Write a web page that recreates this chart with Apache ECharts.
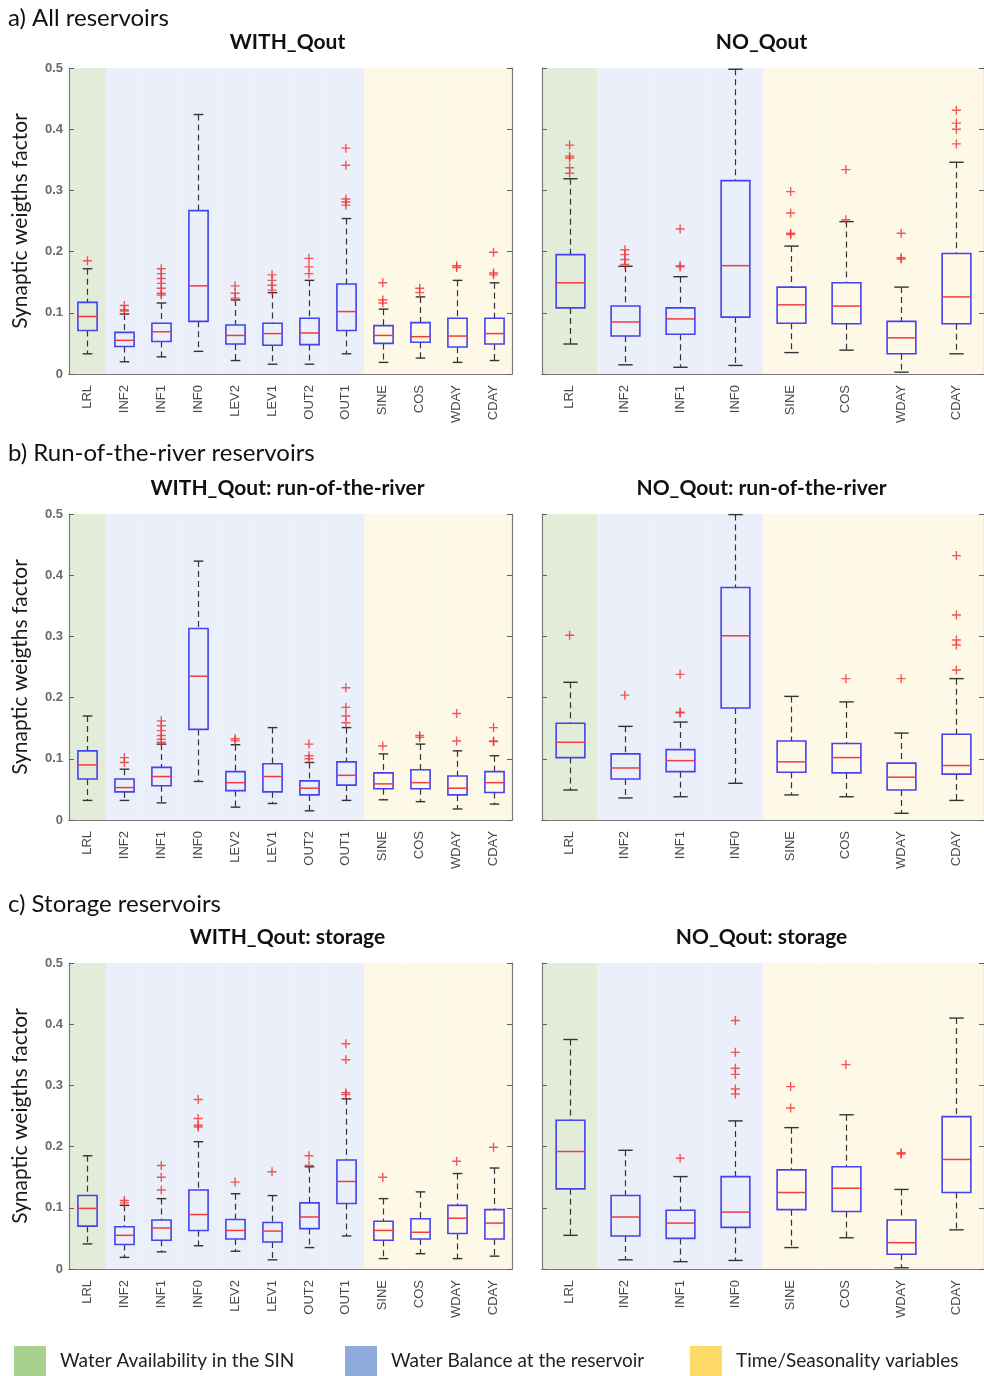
<!DOCTYPE html>
<html lang="en">
<head>
<meta charset="UTF-8">
<title>Synaptic weigths factor</title>
<script src="https://cdn.jsdelivr.net/npm/echarts@6/dist/echarts.min.js"></script>
<style>
  body { margin: 0; background: #fff; }
  #main { width: 984px; height: 1376px; }
</style>
</head>
<body>
<div id="main"></div>
<script>
// categories
var catsWith = ['LRL', 'INF2', 'INF1', 'INF0', 'LEV2', 'LEV1', 'OUT2', 'OUT1', 'SINE', 'COS', 'WDAY', 'CDAY'];
var catsNo = ['LRL', 'INF2', 'INF1', 'INF0', 'SINE', 'COS', 'WDAY', 'CDAY'];
var groupWith = [0, 1, 1, 1, 1, 1, 1, 1, 2, 2, 2, 2];
var groupNo = [0, 1, 1, 1, 2, 2, 2, 2];
var groupNames = ['Water Availability in the SIN', 'Water Balance at the reservoir', 'Time/Seasonality variables'];
var yTicks = [0, 0.1, 0.2, 0.3, 0.4, 0.5];

// boxes: [lower whisker, q1, median, q3, upper whisker]
var allWithBox = [
    [0.033, 0.071, 0.094, 0.117, 0.172], [0.020, 0.045, 0.055, 0.068, 0.098], [0.028, 0.053, 0.069, 0.083, 0.116],
    [0.037, 0.086, 0.144, 0.267, 0.424], [0.022, 0.049, 0.063, 0.080, 0.121], [0.016, 0.047, 0.066, 0.083, 0.133],
    [0.016, 0.048, 0.067, 0.091, 0.153], [0.033, 0.071, 0.102, 0.147, 0.254], [0.019, 0.050, 0.063, 0.079, 0.106],
    [0.026, 0.052, 0.061, 0.084, 0.126], [0.019, 0.044, 0.062, 0.091, 0.153], [0.022, 0.049, 0.066, 0.091, 0.149]
];
var allWithOut = [
    [0.185], [0.103, 0.105, 0.112], [0.129, 0.132, 0.140, 0.148, 0.156, 0.164, 0.172], [],
    [0.124, 0.132, 0.144], [0.137, 0.145, 0.153, 0.162], [0.164, 0.175, 0.189], [0.276, 0.281, 0.286, 0.341, 0.369],
    [0.116, 0.121, 0.149], [0.133, 0.140], [0.174, 0.177], [0.162, 0.165, 0.199]
];
var allNoBox = [
    [0.049, 0.108, 0.149, 0.195, 0.319], [0.015, 0.062, 0.085, 0.111, 0.176], [0.011, 0.065, 0.090, 0.108, 0.159],
    [0.014, 0.093, 0.177, 0.316, 0.498], [0.035, 0.083, 0.113, 0.142, 0.209], [0.039, 0.082, 0.111, 0.149, 0.249],
    [0.003, 0.033, 0.059, 0.086, 0.142], [0.033, 0.082, 0.126, 0.197, 0.346]
];
var allNoOut = [
    [0.328, 0.337, 0.353, 0.356, 0.374], [0.179, 0.187, 0.195, 0.203], [0.175, 0.177, 0.237], [],
    [0.228, 0.230, 0.263, 0.298], [0.252, 0.334], [0.188, 0.190, 0.230], [0.376, 0.400, 0.410, 0.431]
];

var rorWithBox = [
    [0.032, 0.067, 0.090, 0.113, 0.170], [0.032, 0.046, 0.053, 0.067, 0.083], [0.028, 0.056, 0.071, 0.086, 0.124],
    [0.063, 0.148, 0.235, 0.313, 0.423], [0.021, 0.048, 0.061, 0.079, 0.123], [0.027, 0.046, 0.071, 0.092, 0.151],
    [0.015, 0.041, 0.052, 0.064, 0.094], [0.032, 0.057, 0.073, 0.095, 0.151], [0.033, 0.051, 0.059, 0.077, 0.108],
    [0.030, 0.051, 0.061, 0.082, 0.124], [0.018, 0.041, 0.052, 0.072, 0.113], [0.026, 0.045, 0.061, 0.079, 0.105]
];
var rorWithOut = [
    [], [0.094, 0.102], [0.127, 0.132, 0.138, 0.146, 0.154, 0.162], [],
    [0.130, 0.133], [], [0.100, 0.105, 0.124], [0.159, 0.170, 0.184, 0.216],
    [0.121], [0.135, 0.138], [0.129, 0.174], [0.128, 0.129, 0.151]
];
var rorNoBox = [
    [0.049, 0.102, 0.127, 0.158, 0.225], [0.036, 0.067, 0.085, 0.108, 0.153], [0.038, 0.079, 0.097, 0.115, 0.160],
    [0.060, 0.183, 0.301, 0.380, 0.499], [0.041, 0.078, 0.095, 0.129, 0.202], [0.038, 0.077, 0.102, 0.125, 0.193],
    [0.011, 0.049, 0.070, 0.093, 0.142], [0.032, 0.075, 0.089, 0.140, 0.231]
];
var rorNoOut = [
    [0.302], [0.204], [0.175, 0.176, 0.238], [],
    [], [0.231], [0.231], [0.245, 0.286, 0.294, 0.335, 0.432]
];

var stoWithBox = [
    [0.041, 0.070, 0.099, 0.120, 0.185], [0.019, 0.040, 0.055, 0.069, 0.104], [0.028, 0.047, 0.067, 0.080, 0.115],
    [0.038, 0.063, 0.089, 0.129, 0.208], [0.029, 0.049, 0.063, 0.081, 0.123], [0.015, 0.044, 0.062, 0.076, 0.120],
    [0.035, 0.066, 0.085, 0.108, 0.167], [0.054, 0.107, 0.143, 0.178, 0.278], [0.017, 0.047, 0.063, 0.078, 0.115],
    [0.025, 0.049, 0.060, 0.082, 0.126], [0.017, 0.058, 0.083, 0.104, 0.156], [0.021, 0.049, 0.075, 0.097, 0.165]
];
var stoWithOut = [
    [], [0.108, 0.112], [0.129, 0.150, 0.169], [0.232, 0.235, 0.246, 0.277],
    [0.142], [0.159], [0.169, 0.185], [0.285, 0.288, 0.342, 0.368],
    [0.150], [], [0.176], [0.199]
];
var stoNoBox = [
    [0.055, 0.131, 0.192, 0.243, 0.375], [0.015, 0.054, 0.085, 0.120, 0.194], [0.012, 0.050, 0.075, 0.096, 0.151],
    [0.014, 0.068, 0.093, 0.151, 0.242], [0.035, 0.097, 0.125, 0.162, 0.231], [0.051, 0.094, 0.132, 0.167, 0.252],
    [0.002, 0.024, 0.043, 0.080, 0.130], [0.064, 0.125, 0.179, 0.249, 0.410]
];
var stoNoOut = [
    [], [], [0.181], [0.286, 0.294, 0.318, 0.328, 0.354, 0.406],
    [0.263, 0.298], [0.334], [0.188, 0.190], []
];

// layout / styling
var bandColors = ['#e3ecd9', '#eaeff9', '#fef9e7'];
var legendColors = ['#a9d18e', '#8faadc', '#ffd966'];
var rowTops = [68, 514, 963];
var plotH = 306;
var panels = [
    {title: 'WITH_Qout', cats: catsWith, groups: groupWith, box: allWithBox, out: allWithOut, row: 0, side: 0},
    {title: 'NO_Qout', cats: catsNo, groups: groupNo, box: allNoBox, out: allNoOut, row: 0, side: 1},
    {title: 'WITH_Qout: run-of-the-river', cats: catsWith, groups: groupWith, box: rorWithBox, out: rorWithOut, row: 1, side: 0},
    {title: 'NO_Qout: run-of-the-river', cats: catsNo, groups: groupNo, box: rorNoBox, out: rorNoOut, row: 1, side: 1},
    {title: 'WITH_Qout: storage', cats: catsWith, groups: groupWith, box: stoWithBox, out: stoWithOut, row: 2, side: 0},
    {title: 'NO_Qout: storage', cats: catsNo, groups: groupNo, box: stoNoBox, out: stoNoOut, row: 2, side: 1}
];
var sections = ['a) All reservoirs', 'b) Run-of-the-river reservoirs', 'c) Storage reservoirs'];
var sectionY = [18, 453, 904];
var titleY = [42, 488, 937];

function renderBox(params, api) {
    var i = api.value(0);
    var lo = api.coord([i, api.value(1)]);
    var q1 = api.coord([i, api.value(2)]);
    var md = api.coord([i, api.value(3)]);
    var q3 = api.coord([i, api.value(4)]);
    var hi = api.coord([i, api.value(5)]);
    var band = api.size([1, 0])[0];
    var x = Math.round(lo[0]) + 0.5;
    var bw = band * 0.26;
    var cw = band * 0.13;
    var dash = {stroke: '#333', lineWidth: 1.2, lineDash: [6, 4]};
    var solid = {stroke: '#333', lineWidth: 1.4};
    return {
        type: 'group',
        children: [
            {type: 'line', shape: {x1: x, y1: hi[1], x2: x, y2: q3[1]}, style: dash},
            {type: 'line', shape: {x1: x, y1: q1[1], x2: x, y2: lo[1]}, style: dash},
            {type: 'line', shape: {x1: x - cw, y1: hi[1], x2: x + cw, y2: hi[1]}, style: solid},
            {type: 'line', shape: {x1: x - cw, y1: lo[1], x2: x + cw, y2: lo[1]}, style: solid},
            {type: 'rect', shape: {x: x - bw, y: q3[1], width: 2 * bw, height: q1[1] - q3[1]},
                style: {fill: 'none', stroke: '#4343f0', lineWidth: 1.6}},
            {type: 'line', shape: {x1: x - bw, y1: md[1], x2: x + bw, y2: md[1]},
                style: {stroke: '#f03c3c', lineWidth: 1.5}}
        ]
    };
}

var grid = [], xAxis = [], yAxis = [], series = [], graphic = [];

panels.forEach(function (p, k) {
    var left = p.side === 0 ? 69 : 542;
    var width = p.side === 0 ? 443 : 445;
    var top = rowTops[p.row];
    grid.push({left: left, top: top, width: width, height: plotH});

    var lineStyle = {color: '#7a7a7a', width: 1.2};
    xAxis.push({
        type: 'category', gridIndex: k, data: p.cats, position: 'bottom', z: 5,
        axisLine: {lineStyle: lineStyle}, axisTick: {show: false},
        axisLabel: {rotate: 90, margin: 11, fontSize: 13, color: '#4a4a4a', fontFamily: 'Liberation Sans', interval: 0}
    });
    xAxis.push({
        type: 'category', gridIndex: k, data: p.cats, position: 'top', z: 5,
        axisLine: {lineStyle: lineStyle}, axisTick: {show: false}, axisLabel: {show: false}
    });
    yAxis.push({
        type: 'value', gridIndex: k, min: yTicks[0], max: yTicks[yTicks.length - 1], interval: 0.1, position: 'left', z: 5,
        splitLine: {show: false},
        axisLine: {show: true, lineStyle: lineStyle},
        axisTick: {show: true, inside: true, length: 5, lineStyle: {color: '#606060'}},
        axisLabel: {show: p.side === 0, margin: 6, fontSize: 13, color: '#6a6a6a', fontWeight: 'bold',
            fontFamily: 'Liberation Sans'},
        name: p.side === 0 ? 'Synaptic weigths factor' : '',
        nameLocation: 'middle', nameGap: 38,
        nameTextStyle: {fontSize: 21, color: '#1a1a1a', fontFamily: 'Lato'}
    });
    yAxis.push({
        type: 'value', gridIndex: k, min: yTicks[0], max: yTicks[yTicks.length - 1], interval: 0.1, position: 'right', z: 5,
        splitLine: {show: false},
        axisLine: {show: true, lineStyle: lineStyle},
        axisTick: {show: true, inside: true, length: 5, lineStyle: {color: '#606060'}},
        axisLabel: {show: false}
    });

    // background bands, one bar series per variable group
    groupNames.forEach(function (g, gi) {
        series.push({
            type: 'bar', name: g, xAxisIndex: 2 * k, yAxisIndex: 2 * k, silent: true, z: 1,
            barGap: '-100%', barCategoryGap: 0,
            itemStyle: {color: bandColors[gi]},
            data: p.groups.map(function (gg) { return gg === gi ? yTicks[yTicks.length - 1] : '-'; })
        });
    });

    series.push({
        type: 'custom', xAxisIndex: 2 * k, yAxisIndex: 2 * k, z: 3, silent: true,
        renderItem: renderBox,
        encode: {x: 0, y: [1, 2, 3, 4, 5]},
        data: p.box.map(function (b, i) { return [i].concat(b); })
    });

    var pts = [];
    p.out.forEach(function (arr, i) {
        arr.forEach(function (v) { pts.push([i, v]); });
    });
    series.push({
        type: 'scatter', xAxisIndex: 2 * k, yAxisIndex: 2 * k, z: 4, silent: true,
        symbol: 'path://M0 5L10 5M5 0L5 10', symbolSize: 9,
        itemStyle: {color: 'none', borderColor: '#f03030', borderWidth: 1.4},
        data: pts
    });

    graphic.push({
        type: 'text', x: left + width / 2 - 3, y: titleY[p.row],
        style: {text: p.title, font: 'bold 21px Lato', fill: '#111', textAlign: 'center', textVerticalAlign: 'middle'}
    });
});

sections.forEach(function (s, i) {
    graphic.push({
        type: 'text', x: 8, y: sectionY[i],
        style: {text: s, font: '24px Lato', fill: '#111', textAlign: 'left', textVerticalAlign: 'middle'}
    });
});

var legendLeft = [14, 345, 690];
var legend = groupNames.map(function (g, i) {
    return {
        left: legendLeft[i], top: 1346, padding: 0, selectedMode: false, icon: 'rect',
        itemWidth: 32, itemHeight: 30,
        textStyle: {fontSize: 19, color: '#222', fontFamily: 'Lato', padding: [0, 0, 0, 9]},
        data: [{name: g, itemStyle: {color: legendColors[i]}}]
    };
});

var chart = echarts.init(document.getElementById('main'));
chart.setOption({
    backgroundColor: '#fff',
    animation: false,
    grid: grid,
    xAxis: xAxis,
    yAxis: yAxis,
    legend: legend,
    graphic: graphic,
    series: series
});
</script>
</body>
</html>
